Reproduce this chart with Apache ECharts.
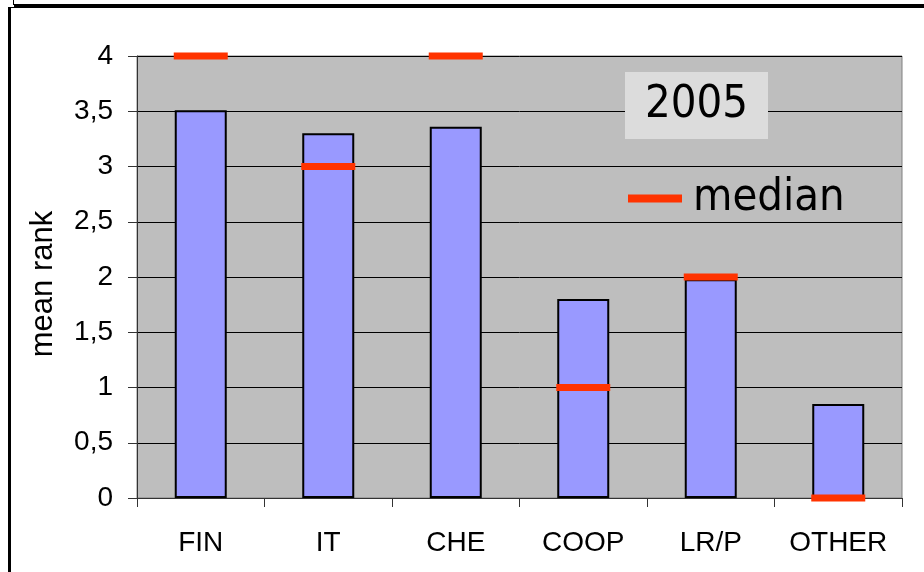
<!DOCTYPE html>
<html>
<head>
<meta charset="utf-8">
<script src="https://cdn.jsdelivr.net/npm/echarts@6/dist/echarts.min.js"></script>
<style>
html,body{margin:0;padding:0;background:#fff;}
#chart{width:924px;height:572px;}
</style>
</head>
<body>
<div id="chart"></div>
<script>
const categories = ['FIN', 'IT', 'CHE', 'COOP', 'LR/P', 'OTHER'];
const meanRank = [3.51, 3.3, 3.36, 1.8, 1.98, 0.85];
const medianRank = [4, 3, 4, 1, 2, 0];
const yTicks = [0, 0.5, 1, 1.5, 2, 2.5, 3, 3.5, 4];
const chartTitle = '2005';
const yName = 'mean rank';

const chart = echarts.init(document.getElementById('chart'));
const labelFont = '"Liberation Sans", Arial, sans-serif';
const boxFont = '"DejaVu Sans Condensed", "DejaVu Sans", sans-serif';

chart.setOption({
  animation: false,
  backgroundColor: '#ffffff',
  title: {
    text: chartTitle,
    left: 625,
    top: 72,
    padding: [11, 20, 11, 20],
    backgroundColor: '#dcdcdc',
    textStyle: { fontFamily: boxFont, fontSize: 45, fontWeight: 'normal', color: '#000', lineHeight: 45 }
  },
  legend: {
    data: [{ name: 'median', icon: 'rect', itemStyle: { color: '#ff3300', opacity: 1 } }],
    left: 623,
    top: 171,
    itemWidth: 54,
    itemHeight: 8,
    textStyle: { fontFamily: boxFont, fontSize: 45, color: '#000', padding: [0, 0, 0, 6] },
    selectedMode: false
  },
  grid: { left: 137, right: 22, top: 56, bottom: 74, show: true, backgroundColor: '#bebebe', borderColor: '#808080', borderWidth: 1 },
  xAxis: {
    type: 'category',
    data: categories,
    axisLine: { lineStyle: { color: '#333', width: 1 } },
    axisTick: { show: true, length: 9, alignWithLabel: false, lineStyle: { color: '#333' } },
    axisLabel: { fontFamily: labelFont, fontSize: 28, color: '#000', margin: 31 },
    splitLine: { show: false }
  },
  yAxis: {
    type: 'value',
    min: 0, max: 4, interval: 0.5,
    axisLine: { show: true, lineStyle: { color: '#333', width: 1 } },
    axisTick: { show: true, length: 9, lineStyle: { color: '#333' } },
    axisLabel: {
      fontFamily: labelFont, fontSize: 28, color: '#000', margin: 24,
      formatter: v => yTicks.includes(v) ? String(v).replace('.', ',') : ''
    },
    splitLine: { show: true, lineStyle: { color: '#000', width: 1 } }
  },
  series: [
    {
      name: 'mean',
      type: 'bar',
      data: meanRank,
      barWidth: 52,
      itemStyle: { color: '#9999ff', borderColor: '#000', borderWidth: 2 },
      z: 2
    },
    {
      name: 'median',
      type: 'scatter',
      data: medianRank,
      symbol: 'rect',
      symbolSize: [54, 7],
      itemStyle: { color: '#ff3300', opacity: 1 },
      clip: false,
      z: 5
    }
  ],
  graphic: [
    { type: 'text', x: 43, y: 284, rotation: Math.PI / 2,
      style: { text: yName, font: '31px "Liberation Sans", Arial, sans-serif', fill: '#000', textAlign: 'center', textVerticalAlign: 'middle' } },
    { type: 'rect', shape: { x: 14, y: 4, width: 910, height: 4 }, style: { fill: '#000' } },
    { type: 'rect', shape: { x: 13, y: 0, width: 1, height: 5 }, style: { fill: '#000' } },
    { type: 'rect', shape: { x: 8, y: 7, width: 3, height: 565 }, style: { fill: '#000' } },
    { type: 'rect', shape: { x: 8, y: 7, width: 8, height: 1 }, style: { fill: '#000' } }
  ]
});
</script>
</body>
</html>
